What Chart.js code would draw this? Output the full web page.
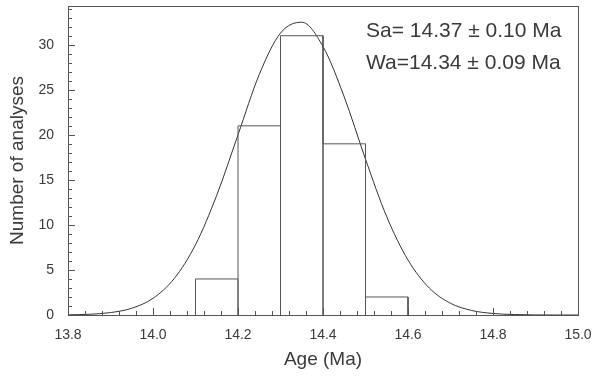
<!DOCTYPE html>
<html>
<head>
<meta charset="utf-8">
<title>Age histogram</title>
<script src="https://cdn.jsdelivr.net/npm/chart.js@4.4.0/dist/chart.umd.min.js"></script>
<style>
    html, body { margin: 0; padding: 0; background: #fff; }
    #wrap { width: 595px; height: 379px; }
</style>
</head>
<body>
<div id="wrap"><canvas id="ageChart" width="595" height="379"></canvas></div>
<script>
// histogram bins (Ma) and counts
const binEdges = [14.1, 14.2, 14.3, 14.4, 14.5, 14.6];
const counts = [4, 21, 31, 19, 2];

// fitted curve
const curveAges = [13.80, 13.85, 13.90, 13.95, 14.00, 14.05, 14.10, 14.15, 14.20, 14.25,
    14.30, 14.35, 14.40, 14.45, 14.50, 14.55, 14.60, 14.65, 14.70, 14.75,
    14.80, 14.85, 14.90, 14.95, 15.00];
const curveValues = [0.02, 0.08, 0.27, 0.75, 1.85, 4.05, 7.8, 13.3, 20.0, 26.7,
    31.3, 32.5, 29.8, 24.2, 17.3, 10.9, 6.1, 3.0, 1.3, 0.5,
    0.17, 0.05, 0.01, 0, 0];

const xTickLabels = ['13.8', '14.0', '14.2', '14.4', '14.6', '14.8', '15.0'];
const yTickLabels = ['0', '5', '10', '15', '20', '25', '30'];
const statLines = ['Sa= 14.37 \u00b1 0.10 Ma', 'Wa=14.34 \u00b1 0.09 Ma'];

const FONT = '"Liberation Sans", Arial, sans-serif';
const INK = '#3a3a3a';
const LINE = '#555';

// outline of the histogram: up, across, down for every bin
const histOutline = [];
counts.forEach((c, i) => {
    histOutline.push({ x: binEdges[i], y: 0 });
    histOutline.push({ x: binEdges[i], y: c });
    histOutline.push({ x: binEdges[i + 1], y: c });
    histOutline.push({ x: binEdges[i + 1], y: 0 });
});

const curvePoints = curveAges.map((a, i) => ({ x: a, y: curveValues[i] }));

// box around the plot, inward ticks and the two stat lines
const frameAndTicks = {
    id: 'frameAndTicks',
    afterDraw(chart) {
        const ctx = chart.ctx;
        const area = chart.chartArea;
        const xs = chart.scales.x;
        const ys = chart.scales.y;
        ctx.save();
        ctx.strokeStyle = LINE;
        ctx.lineWidth = 1;
        ctx.strokeRect(Math.round(area.left) + 0.5, Math.round(area.top) + 0.5,
            Math.round(area.right - area.left), Math.round(area.bottom - area.top));

        ctx.beginPath();
        xs.ticks.forEach(t => {
            const px = Math.round(xs.getPixelForValue(t.value)) + 0.5;
            const len = t.label ? 7 : 4;
            ctx.moveTo(px, area.bottom);
            ctx.lineTo(px, area.bottom - len);
        });
        ys.ticks.forEach(t => {
            if (Math.abs(t.value - Math.round(t.value)) > 1e-6) return;
            const py = Math.round(ys.getPixelForValue(t.value)) + 0.5;
            const len = t.label ? 7 : 4;
            ctx.moveTo(area.left, py);
            ctx.lineTo(area.left + len, py);
        });
        ctx.stroke();

        ctx.fillStyle = INK;
        ctx.font = '21px ' + FONT;
        ctx.textAlign = 'left';
        ctx.textBaseline = 'middle';
        statLines.forEach((s, i) => {
            ctx.fillText(s, area.right - 212, area.top + 25 + i * 32);
        });
        ctx.restore();
    }
};

new Chart(document.getElementById('ageChart'), {
    type: 'scatter',
    data: {
        datasets: [
            {
                label: 'Counts',
                data: histOutline,
                showLine: true,
                borderColor: LINE,
                borderWidth: 1,
                pointRadius: 0,
                tension: 0,
                fill: false
            },
            {
                label: 'Fit',
                data: curvePoints,
                showLine: true,
                borderColor: '#333',
                borderWidth: 1,
                pointRadius: 0,
                cubicInterpolationMode: 'monotone',
                fill: false
            }
        ]
    },
    options: {
        responsive: false,
        animation: false,
        layout: { padding: { top: 6, right: 17, left: 0, bottom: 0 } },
        plugins: {
            legend: { display: false },
            tooltip: { enabled: false }
        },
        scales: {
            x: {
                type: 'linear',
                min: 13.8,
                max: 15.0,
                grid: { display: false, drawTicks: false },
                border: { display: false },
                ticks: {
                    stepSize: 0.04,
                    autoSkip: false,
                    maxRotation: 0,
                    padding: 12,
                    color: INK,
                    font: { family: FONT, size: 14 },
                    callback: function (v) {
                        const idx = Math.round((v - 13.8) / 0.2);
                        if (Math.abs(v - (13.8 + idx * 0.2)) < 1e-6) {
                            return xTickLabels[idx];
                        }
                        return '';
                    }
                },
                title: {
                    display: true,
                    text: 'Age (Ma)',
                    color: INK,
                    font: { family: FONT, size: 19 },
                    padding: { top: 0, bottom: 8 }
                },
                afterFit: function (scale) {
                    scale.height = 64;
                    scale.paddingLeft = 0;
                    scale.paddingRight = 0;
                }
            },
            y: {
                min: 0,
                max: 34.3,
                grid: { display: false, drawTicks: false },
                border: { display: false },
                ticks: {
                    stepSize: 1,
                    autoSkip: false,
                    includeBounds: false,
                    padding: 14,
                    color: INK,
                    font: { family: FONT, size: 14 },
                    callback: function (v) {
                        if (v % 5 === 0) return yTickLabels[v / 5];
                        return '';
                    }
                },
                title: {
                    display: true,
                    text: 'Number of analyses',
                    color: INK,
                    font: { family: FONT, size: 19 },
                    padding: { top: 6, bottom: 0 }
                },
                afterFit: function (scale) {
                    scale.width = 68;
                    scale.paddingTop = 0;
                    scale.paddingBottom = 0;
                }
            }
        }
    },
    plugins: [frameAndTicks]
});
</script>
</body>
</html>
